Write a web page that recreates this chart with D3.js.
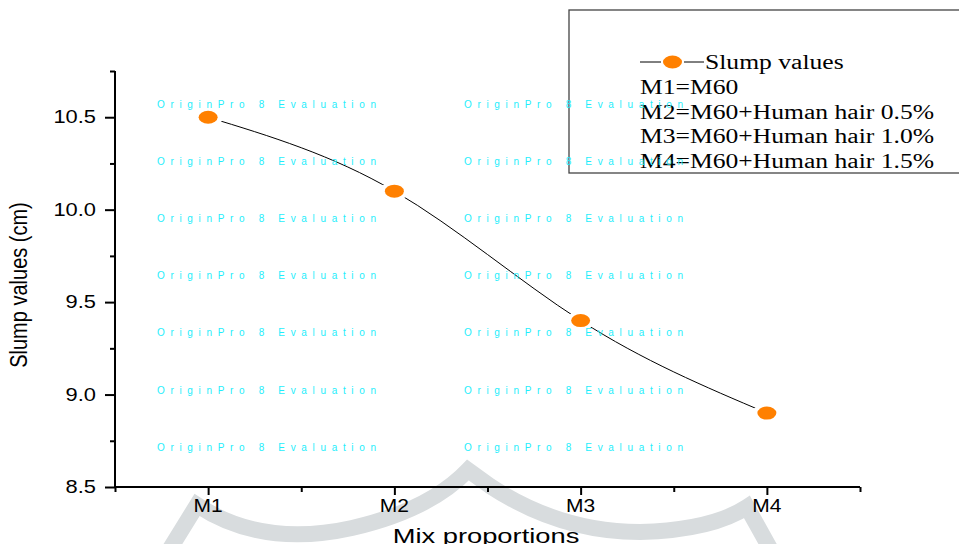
<!DOCTYPE html>
<html>
<head>
<meta charset="utf-8">
<script src="https://cdn.jsdelivr.net/npm/d3@7"></script>
<style>
  body { margin: 0; background: #fff; }
  svg { display: block; }
</style>
</head>
<body>
<svg id="chart" width="959" height="544"></svg>
<script>
// data
const mixes = ["M1", "M2", "M3", "M4"];
const slump = [10.5, 10.1, 9.4, 8.9];
const yTicks = [8.5, 9.0, 9.5, 10.0, 10.5];
const legendLines = ["M1=M60", "M2=M60+Human hair 0.5%", "M3=M60+Human hair 1.0%", "M4=M60+Human hair 1.5%"];
const seriesName = "Slump values";
const watermark = "OriginPro 8 Evaluation";

const svg = d3.select("#chart");
const plot = { left: 115, right: 860, top: 71, bottom: 487 };
const STRETCH = 1.27; // source picture is widened horizontally

const x = d3.scaleLinear().domain([0.5, mixes.length + 0.5]).range([plot.left, plot.right]);
const y = d3.scaleLinear().domain([8.5, 10.75]).range([plot.bottom, plot.top]);

// faint background stamp of the page behind the chart
svg.append("path")
  .attr("d", "M168,552 L197,505 Q262,548 352,528 Q430,510 468,470 L490,486 Q560,532 640,532 Q712,530 747,507 L772,552")
  .attr("fill", "none")
  .attr("stroke", "#d8dcde")
  .attr("stroke-width", 16)
  .attr("stroke-linejoin", "miter");

// stretched text helper
function stext(parent, tx, ty, str, opts) {
  const g = parent.append("g").attr("transform", `translate(${tx},${ty}) scale(${opts.sx || STRETCH},1)`);
  return g.append("text")
    .attr("text-anchor", opts.anchor || "start")
    .attr("dy", opts.dy || 0)
    .style("font-family", opts.family || "Liberation Sans, Arial, sans-serif")
    .style("font-size", opts.size + "px")
    .attr("fill", opts.fill || "#000")
    .text(str);
}

// axes
const axisG = svg.append("g");
const yMajor = axisG.append("g").attr("transform", `translate(${plot.left},0)`)
  .call(d3.axisLeft(y).tickValues(yTicks).tickSize(10).tickFormat(""));
const yMinor = axisG.append("g").attr("transform", `translate(${plot.left},0)`)
  .call(d3.axisLeft(y).tickValues([8.75, 9.25, 9.75, 10.25, 10.75]).tickSize(5).tickFormat(""));
const xMajor = axisG.append("g").attr("transform", `translate(0,${plot.bottom})`)
  .call(d3.axisBottom(x).tickValues(d3.range(1, mixes.length + 1)).tickSize(8).tickFormat(""));
const xMinor = axisG.append("g").attr("transform", `translate(0,${plot.bottom})`)
  .call(d3.axisBottom(x).tickValues([0.5, 1.5, 2.5, 3.5, 4.5]).tickSize(5).tickFormat(""));
axisG.selectAll(".domain").attr("stroke", "#000").attr("stroke-width", 2);
axisG.selectAll(".tick line").attr("stroke", "#000").attr("stroke-width", 2);
yMinor.select(".domain").remove();
xMinor.select(".domain").remove();
yMajor.select(".domain").attr("d", `M0,${plot.top}V${plot.bottom}`);
xMajor.select(".domain").attr("d", `M${plot.left},0H${plot.right}`);

// tick labels
yTicks.forEach(v => stext(svg, 96, y(v), d3.format(".1f")(v), { size: 17.5, anchor: "end", dy: "0.35em", sx: 1.25 }));
mixes.forEach((m, i) => stext(svg, x(i + 1), 512, m, { size: 17.5, anchor: "middle", sx: 1.2 }));

// axis titles
stext(svg, 486, 543, "Mix proportions", { size: 21, anchor: "middle", sx: 1.3 });
svg.append("g").attr("transform", `translate(27,285) scale(1.15,1) rotate(-90)`)
  .append("text")
  .attr("text-anchor", "middle")
  .style("font-family", "Liberation Sans, Arial, sans-serif")
  .style("font-size", "20px")
  .text("Slump values (cm)");

// series line
const pts = slump.map((v, i) => [x(i + 1), y(v)]);
svg.append("path")
  .datum(pts)
  .attr("fill", "none")
  .attr("stroke", "#000")
  .attr("stroke-width", 1)
  .attr("d", d3.line().curve(d3.curveNatural));

// gap around the markers, then markers
svg.selectAll("ellipse.halo").data(pts).join("ellipse")
  .attr("class", "halo")
  .attr("cx", d => d[0]).attr("cy", d => d[1])
  .attr("rx", 15).attr("ry", 9)
  .attr("fill", "#fff");
svg.selectAll("ellipse.mark").data(pts).join("ellipse")
  .attr("class", "mark")
  .attr("cx", d => d[0]).attr("cy", d => d[1])
  .attr("rx", 9.5).attr("ry", 6.5)
  .attr("fill", "#ff8000");

// legend
const lg = svg.append("g");
lg.append("rect")
  .attr("x", 569).attr("y", 10)
  .attr("width", 420).attr("height", 163)
  .attr("fill", "#fff")
  .attr("stroke", "#444")
  .attr("stroke-width", 1.3);
lg.append("line").attr("x1", 640).attr("x2", 661).attr("y1", 62).attr("y2", 62).attr("stroke", "#000").attr("stroke-width", 1);
lg.append("line").attr("x1", 684).attr("x2", 704).attr("y1", 62).attr("y2", 62).attr("stroke", "#000").attr("stroke-width", 1);
lg.append("ellipse").attr("cx", 672.5).attr("cy", 62).attr("rx", 9.5).attr("ry", 6.5).attr("fill", "#ff8000");
const serif = "Liberation Serif, Times New Roman, serif";
stext(lg, 705, 69, seriesName, { size: 20, family: serif, sx: 1.28 });
legendLines.forEach((t, i) => stext(lg, 640, 94 + i * 24.7, t, { size: 20, family: serif, sx: 1.28 }));

// evaluation watermark, on top of everything
const wmRows = [104, 161, 218, 275, 332, 390, 447];
const wmCols = [157, 464];
wmRows.forEach(r => wmCols.forEach(c => {
  svg.append("text")
    .attr("x", c).attr("y", r + 3.5)
    .attr("textLength", 219)
    .attr("lengthAdjust", "spacing")
    .style("font-family", "Liberation Sans, Arial, sans-serif")
    .style("font-size", "10px")
    .attr("fill", "#1eeefc")
    .text(watermark);
}));
</script>
</body>
</html>
